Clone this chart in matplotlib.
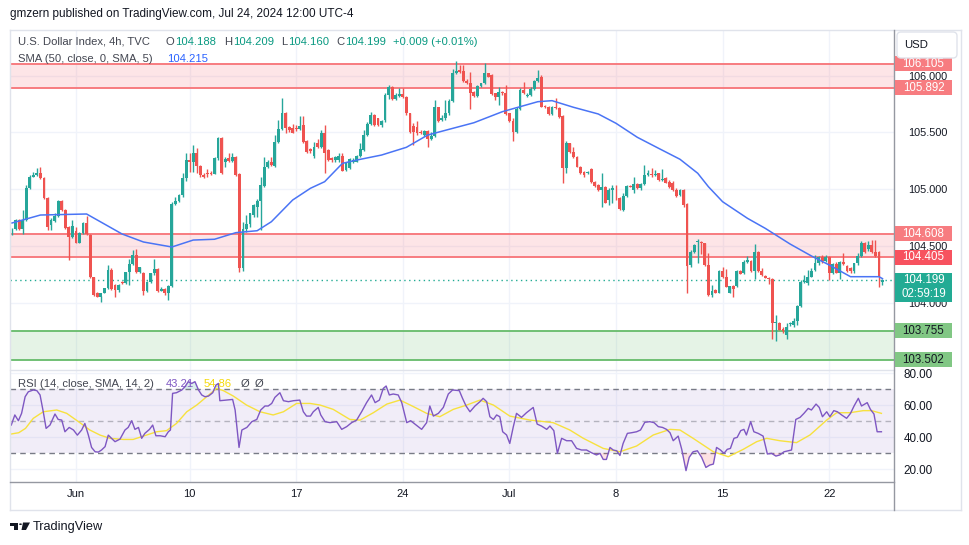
import numpy as np
import matplotlib.pyplot as plt
from matplotlib.patches import Rectangle, FancyBboxPatch, Polygon, Circle
from matplotlib.lines import Line2D
from matplotlib.transforms import IdentityTransform

plt.rcParams['font.family'] = ['Liberation Sans', 'DejaVu Sans']

# 4h candles, U.S. Dollar Index (TVC)
opens = [
    104.630, 104.648, 104.730, 104.651, 104.730, 105.008, 105.111, 105.125, 105.140, 105.096,
    104.920, 104.686, 104.724, 104.765, 104.897, 104.818, 104.671, 104.577, 104.636, 104.531,
    104.613, 104.706, 104.598, 104.226, 104.085, 104.056, 104.091, 104.129, 104.290, 104.158,
    104.114, 104.182, 104.176, 104.270, 104.340, 104.422, 104.276, 104.267, 104.109, 104.188,
    104.261, 104.296, 104.109, 104.120, 104.085, 104.150, 104.870, 104.900, 104.950, 105.096,
    105.257, 105.242, 105.316, 105.204, 105.125, 105.140, 105.140, 105.134, 105.272, 105.447,
    105.242, 105.272, 105.251, 105.280, 105.134, 104.305, 104.648, 104.695, 104.774, 104.841,
    104.900, 105.029, 105.193, 105.242, 105.204, 105.418, 105.527, 105.667, 105.550, 105.535,
    105.535, 105.527, 105.565, 105.427, 105.351, 105.293, 105.404, 105.375, 105.492, 105.345,
    105.272, 105.257, 105.257, 105.293, 105.170, 105.184, 105.243, 105.243, 105.293, 105.345,
    105.477, 105.574, 105.653, 105.624, 105.565, 105.609, 105.829, 105.902, 105.791, 105.820,
    105.834, 105.814, 105.668, 105.556, 105.550, 105.506, 105.477, 105.515, 105.439, 105.468,
    105.720, 105.609, 105.624, 105.668, 105.779, 106.019, 106.048, 106.042, 105.955, 105.931,
    105.858, 105.820, 105.908, 105.931, 106.019, 106.004, 105.843, 105.814, 105.858, 105.849,
    105.668, 105.603, 105.506, 105.703, 105.873, 105.820, 105.829, 105.878, 105.955, 105.990,
    105.732, 105.726, 105.662, 105.726, 105.711, 105.644, 105.184, 105.404, 105.331, 105.287,
    105.199, 105.155, 105.140, 105.175, 105.067, 105.038, 104.994, 105.023, 104.906, 104.994,
    104.926, 104.920, 104.818, 104.941, 105.029, 104.994, 105.046, 105.008, 105.046, 105.126,
    105.134, 105.126, 105.140, 105.082, 105.096, 105.067, 105.052, 104.994, 104.950, 104.994,
    104.871, 104.335, 104.452, 104.540, 104.540, 104.525, 104.335, 104.071, 104.115, 104.092,
    104.285, 104.232, 104.092, 104.150, 104.150, 104.285, 104.262, 104.364, 104.373, 104.285,
    104.452, 104.285, 104.238, 104.218, 104.209, 103.822, 103.828, 103.770, 103.720, 103.816,
    103.810, 103.840, 103.975, 104.188, 104.174, 104.232, 104.291, 104.349, 104.408, 104.373,
    104.402, 104.267, 104.344, 104.267, 104.364, 104.326, 104.306, 104.285, 104.349, 104.414,
    104.531, 104.472, 104.511, 104.452, 104.452, 104.188,
]
highs = [
    104.656, 104.736, 104.736, 104.818, 105.037, 105.125, 105.154, 105.184, 105.193, 105.105,
    104.929, 104.744, 104.788, 104.905, 104.905, 104.823, 104.677, 104.730, 104.671, 104.627,
    104.715, 104.765, 104.607, 104.232, 104.100, 104.062, 104.135, 104.334, 104.305, 104.167,
    104.167, 104.196, 104.276, 104.384, 104.466, 104.472, 104.320, 104.275, 104.196, 104.267,
    104.384, 104.305, 104.144, 104.129, 104.158, 104.891, 104.935, 104.958, 105.140, 105.316,
    105.321, 105.389, 105.360, 105.213, 105.146, 105.175, 105.163, 105.280, 105.462, 105.462,
    105.286, 105.321, 105.321, 105.292, 105.140, 104.715, 104.774, 104.794, 104.870, 104.911,
    105.111, 105.280, 105.257, 105.280, 105.477, 105.609, 105.799, 105.682, 105.556, 105.573,
    105.565, 105.644, 105.644, 105.433, 105.360, 105.419, 105.439, 105.521, 105.565, 105.351,
    105.287, 105.293, 105.316, 105.316, 105.243, 105.272, 105.272, 105.301, 105.404, 105.521,
    105.594, 105.682, 105.662, 105.630, 105.609, 105.843, 105.917, 105.908, 105.849, 105.887,
    105.887, 105.820, 105.673, 105.580, 105.603, 105.521, 105.521, 105.521, 105.506, 105.785,
    105.726, 105.653, 105.785, 105.791, 106.060, 106.127, 106.092, 106.092, 105.966, 106.034,
    105.867, 105.917, 105.937, 106.113, 106.025, 106.013, 105.849, 105.902, 105.867, 105.917,
    105.673, 105.624, 105.720, 105.887, 105.946, 105.843, 105.896, 105.960, 106.048, 106.004,
    105.741, 105.732, 105.732, 105.799, 105.720, 105.650, 105.427, 105.410, 105.369, 105.292,
    105.205, 105.164, 105.160, 105.184, 105.076, 105.046, 105.146, 105.029, 105.008, 105.038,
    105.038, 104.929, 104.964, 105.038, 105.038, 105.111, 105.058, 105.058, 105.213, 105.169,
    105.184, 105.169, 105.146, 105.175, 105.111, 105.082, 105.076, 105.008, 105.000, 104.999,
    104.877, 104.467, 104.520, 104.560, 104.549, 104.531, 104.437, 104.159, 104.121, 104.291,
    104.314, 104.297, 104.150, 104.159, 104.291, 104.290, 104.379, 104.414, 104.379, 104.520,
    104.458, 104.306, 104.245, 104.232, 104.218, 103.895, 103.835, 103.793, 103.822, 103.830,
    103.870, 103.983, 104.203, 104.247, 104.291, 104.306, 104.423, 104.414, 104.423, 104.423,
    104.414, 104.355, 104.364, 104.373, 104.437, 104.335, 104.320, 104.355, 104.437, 104.549,
    104.540, 104.549, 104.554, 104.554, 104.461, 104.209,
]
lows = [
    104.598, 104.642, 104.642, 104.607, 104.724, 104.999, 105.105, 105.116, 105.090, 104.911,
    104.642, 104.642, 104.715, 104.759, 104.812, 104.651, 104.378, 104.569, 104.525, 104.525,
    104.607, 104.598, 104.217, 104.062, 104.050, 104.012, 104.085, 104.120, 104.114, 104.056,
    104.100, 104.167, 104.167, 104.158, 104.334, 104.267, 104.267, 104.071, 104.100, 104.179,
    104.247, 104.100, 104.103, 104.071, 104.026, 104.138, 104.862, 104.891, 104.929, 105.075,
    105.155, 105.155, 105.146, 105.111, 105.096, 105.105, 105.125, 105.134, 105.257, 105.134,
    105.193, 105.242, 105.242, 105.119, 104.276, 104.285, 104.627, 104.671, 104.759, 104.753,
    104.642, 105.023, 105.184, 105.204, 105.193, 105.403, 105.521, 105.497, 105.506, 105.491,
    105.515, 105.521, 105.409, 105.321, 105.316, 105.272, 105.360, 105.360, 105.140, 105.252,
    105.243, 105.243, 105.243, 105.158, 105.164, 105.181, 105.234, 105.240, 105.287, 105.339,
    105.468, 105.565, 105.556, 105.556, 105.550, 105.594, 105.791, 105.785, 105.785, 105.814,
    105.799, 105.653, 105.498, 105.389, 105.477, 105.486, 105.468, 105.375, 105.433, 105.457,
    105.594, 105.603, 105.609, 105.653, 105.770, 106.013, 106.025, 105.946, 105.925, 105.703,
    105.814, 105.814, 105.902, 105.925, 105.984, 105.829, 105.785, 105.741, 105.829, 105.653,
    105.594, 105.427, 105.498, 105.697, 105.837, 105.808, 105.823, 105.873, 105.946, 105.720,
    105.714, 105.653, 105.653, 105.706, 105.624, 105.058, 105.146, 105.322, 105.272, 105.193,
    105.134, 105.111, 105.135, 105.058, 105.023, 104.988, 104.841, 104.877, 104.862, 104.882,
    104.906, 104.818, 104.812, 104.935, 105.017, 104.964, 104.999, 104.994, 105.038, 105.117,
    105.111, 105.117, 105.076, 105.076, 105.052, 105.008, 104.988, 104.929, 104.941, 104.841,
    104.092, 104.320, 104.443, 104.349, 104.432, 104.326, 104.062, 104.057, 104.086, 104.086,
    104.218, 104.139, 104.092, 104.051, 104.144, 104.256, 104.256, 104.355, 104.276, 104.209,
    104.276, 104.238, 104.220, 104.168, 103.682, 103.670, 103.760, 103.740, 103.682, 103.800,
    103.790, 103.808, 103.969, 104.174, 104.159, 104.226, 104.285, 104.335, 104.355, 104.364,
    104.203, 104.256, 104.262, 104.209, 104.335, 104.276, 104.262, 104.267, 104.335, 104.402,
    104.443, 104.461, 104.437, 104.402, 104.144, 104.160,
]
closes = [
    104.636, 104.730, 104.651, 104.730, 105.008, 105.111, 105.125, 105.140, 105.096, 104.920,
    104.671, 104.730, 104.765, 104.897, 104.818, 104.656, 104.577, 104.677, 104.531, 104.613,
    104.706, 104.607, 104.226, 104.071, 104.056, 104.091, 104.129, 104.290, 104.120, 104.114,
    104.158, 104.176, 104.270, 104.340, 104.422, 104.276, 104.314, 104.109, 104.188, 104.261,
    104.296, 104.109, 104.120, 104.085, 104.150, 104.870, 104.900, 104.950, 105.096, 105.257,
    105.242, 105.316, 105.204, 105.125, 105.111, 105.134, 105.134, 105.272, 105.447, 105.140,
    105.263, 105.251, 105.280, 105.125, 104.305, 104.648, 104.695, 104.788, 104.862, 104.900,
    105.037, 105.193, 105.242, 105.213, 105.418, 105.527, 105.667, 105.535, 105.521, 105.497,
    105.527, 105.556, 105.418, 105.330, 105.339, 105.375, 105.369, 105.492, 105.316, 105.257,
    105.257, 105.281, 105.293, 105.164, 105.228, 105.263, 105.257, 105.293, 105.351, 105.477,
    105.574, 105.653, 105.565, 105.565, 105.603, 105.829, 105.902, 105.791, 105.829, 105.834,
    105.814, 105.668, 105.506, 105.506, 105.492, 105.492, 105.512, 105.439, 105.468, 105.720,
    105.603, 105.624, 105.673, 105.779, 106.019, 106.042, 106.034, 105.955, 105.931, 105.849,
    105.820, 105.908, 105.931, 106.019, 105.990, 105.834, 105.814, 105.858, 105.843, 105.662,
    105.603, 105.506, 105.703, 105.873, 105.843, 105.829, 105.878, 105.955, 105.975, 105.726,
    105.720, 105.662, 105.726, 105.711, 105.632, 105.184, 105.404, 105.331, 105.281, 105.199,
    105.140, 105.126, 105.155, 105.067, 105.029, 104.994, 105.023, 104.882, 104.994, 105.008,
    104.920, 104.824, 104.941, 105.029, 105.023, 105.046, 105.008, 105.046, 105.126, 105.140,
    105.126, 105.131, 105.082, 105.087, 105.058, 105.023, 104.994, 104.941, 104.994, 104.862,
    104.326, 104.452, 104.511, 104.549, 104.531, 104.335, 104.071, 104.109, 104.092, 104.285,
    104.227, 104.144, 104.150, 104.121, 104.285, 104.256, 104.364, 104.379, 104.285, 104.452,
    104.285, 104.247, 104.224, 104.209, 103.822, 103.837, 103.764, 103.758, 103.793, 103.822,
    103.840, 103.975, 104.188, 104.197, 104.232, 104.285, 104.349, 104.402, 104.373, 104.402,
    104.267, 104.344, 104.267, 104.364, 104.344, 104.285, 104.285, 104.349, 104.414, 104.531,
    104.452, 104.511, 104.452, 104.414, 104.232, 104.199,
]

# SMA(50) read at a few bars
sma_x = [0, 8, 21, 31, 37, 45, 51, 57, 63, 69, 73, 79, 84, 88, 93, 97, 104, 111, 117, 123,
         130, 138, 148, 152, 158, 165, 170, 176, 182, 188, 193, 196, 200, 207, 212, 219, 225,
         230, 236, 244, 245]
sma_y = [104.704, 104.774, 104.783, 104.607, 104.537, 104.493, 104.554, 104.561, 104.619,
         104.636, 104.715, 104.906, 105.009, 105.067, 105.228, 105.257, 105.301, 105.369,
         105.477, 105.527, 105.585, 105.682, 105.770, 105.779, 105.721, 105.662, 105.580,
         105.457, 105.360, 105.264, 105.141, 105.023, 104.891, 104.745, 104.657, 104.519,
         104.414, 104.335, 104.232, 104.232, 104.215]

# RSI(14)
rsi_x = [-0.2, 0.8, 1.8, 2.7, 3.7, 4.6, 6.0, 7.0, 7.9, 8.8,
         9.6, 10.7, 12.1, 13.0, 14.0, 14.9, 16.1, 17.3, 18.4, 19.6,
         20.5, 21.5, 22.4, 23.4, 24.3, 25.2, 26.2, 27.1, 28.0, 29.0,
         30.4, 31.8, 32.7, 33.7, 34.6, 35.6, 36.5, 37.4, 38.7, 39.6,
         40.5, 41.7, 43.1, 44.0, 44.6, 45.2, 46.3, 47.8, 48.7, 49.6,
         50.6, 51.5, 52.5, 53.4, 54.3, 55.3, 56.5, 57.4, 58.1, 58.5,
         60.4, 62.1, 62.8, 63.9, 64.7, 66.1, 67.5, 68.9, 70.0, 71.2,
         72.1, 73.1, 74.0, 75.4, 76.4, 77.8, 79.2, 81.0, 82.0, 82.9,
         84.0, 84.8, 86.2, 86.9, 88.1, 89.5, 91.4, 92.8, 94.2, 95.6,
         97.0, 98.4, 99.8, 101.2, 102.2, 103.4, 104.5, 105.3, 106.2, 107.3,
         108.7, 109.7, 111.1, 112.2, 113.4, 115.3, 116.7, 117.6, 118.6, 120.0,
         121.4, 122.8, 124.0, 125.9, 126.8, 127.8, 128.9, 130.3, 131.7, 132.6,
         133.6, 134.5, 135.5, 136.4, 137.3, 138.1, 139.2, 140.1, 141.1, 142.0,
         143.4, 144.8, 146.7, 147.8, 149.0, 150.5, 151.4, 152.5, 153.5, 154.7,
         156.1, 157.5, 158.9, 160.3, 161.7, 163.1, 164.5, 165.5, 166.4, 167.3,
         168.3, 169.2, 170.2, 171.1, 172.0, 173.2, 174.4, 175.8, 176.9, 178.1,
         179.5, 180.7, 181.9, 183.1, 184.2, 185.2, 186.1, 187.5, 188.5, 189.7,
         190.6, 191.7, 192.9, 194.1, 195.3, 196.4, 197.4, 198.3, 199.4, 200.4,
         201.3, 202.2, 203.2, 204.1, 205.1, 206.0, 206.7, 207.9, 208.8, 210.0,
         211.4, 212.6, 213.8, 215.0, 216.1, 217.3, 218.5, 219.4, 220.6, 221.8,
         222.9, 224.1, 225.0, 226.3, 227.2, 228.1, 229.3, 230.2, 231.3, 232.3,
         233.5, 234.9, 236.0, 237.0, 238.2, 239.1, 240.7, 241.6, 242.6, 243.5,
         244.7]
rsi_y = [47.5, 53.8, 50.2, 54.8, 65.2, 68.3, 69.4, 69.0, 66.3, 55.8,
         45.4, 47.5, 54.4, 51.0, 50.6, 43.3, 46.0, 44.4, 41.2, 44.4,
         48.5, 41.2, 33.5, 30.8, 30.6, 31.9, 34.0, 41.2, 39.2, 37.1,
         38.7, 44.4, 46.0, 50.2, 44.8, 46.0, 39.2, 42.3, 44.8, 47.5,
         40.8, 40.8, 40.2, 43.3, 44.4, 67.3, 67.7, 69.4, 71.5, 74.6,
         73.5, 74.6, 69.4, 66.3, 65.2, 65.6, 67.7, 72.5, 73.5, 62.7,
         63.1, 63.5, 56.9, 33.5, 44.4, 46.0, 49.6, 51.0, 56.9, 59.4,
         59.4, 61.0, 64.8, 67.7, 62.7, 62.1, 62.7, 63.1, 55.8, 53.1,
         53.1, 55.8, 58.5, 53.8, 49.6, 49.0, 49.6, 44.8, 46.5, 49.0,
         50.6, 55.8, 61.5, 66.3, 61.5, 63.1, 70.4, 71.9, 66.3, 66.9,
         66.3, 61.5, 49.0, 50.2, 48.1, 44.8, 49.0, 59.4, 53.1, 54.8,
         58.5, 66.9, 69.4, 69.0, 64.2, 59.4, 55.8, 59.4, 62.1, 64.2,
         62.1, 52.7, 51.0, 53.8, 52.7, 43.3, 41.3, 36.0, 46.5, 54.8,
         52.3, 55.2, 58.5, 48.1, 46.9, 44.8, 46.9, 44.0, 29.8, 39.2,
         37.7, 37.7, 32.9, 31.9, 31.9, 30.2, 28.8, 29.8, 26.0, 26.0,
         33.5, 31.9, 31.4, 28.5, 36.0, 42.3, 42.7, 43.3, 44.4, 49.2,
         49.6, 49.0, 46.5, 46.0, 44.8, 42.7, 37.7, 40.6, 32.3, 19.0,
         27.3, 30.8, 31.4, 27.3, 21.0, 22.5, 23.1, 33.5, 31.9, 29.8,
         32.3, 32.9, 39.2, 39.8, 44.0, 44.8, 41.3, 49.6, 43.3, 42.3,
         40.6, 29.4, 29.8, 28.1, 28.8, 30.8, 31.4, 31.9, 51.0, 52.3,
         54.8, 57.9, 56.9, 60.6, 58.5, 52.7, 55.8, 52.7, 56.5, 55.8,
         53.8, 51.7, 54.8, 59.4, 64.2, 59.4, 61.5, 57.3, 54.4, 43.3,
         43.3]

# SMA(14) of the RSI
rsi_ma_x = [-0.2, 1.9, 3.8, 6.0, 8.8, 12.6, 15.4, 19.1, 21.9, 24.8,
            27.6, 31.3, 34.1, 37.0, 40.7, 43.5, 46.3, 49.2, 52.0, 54.8,
            57.6, 59.5, 62.3, 66.0, 69.8, 73.5, 76.4, 80.1, 83.9, 86.7,
            90.4, 95.1, 98.0, 101.7, 105.5, 109.2, 113.0, 116.7, 120.4, 124.2,
            128.0, 131.7, 135.5, 140.1, 145.8, 152.3, 157.0, 160.8, 166.4, 171.1,
            175.8, 180.5, 185.2, 188.0, 191.7, 197.4, 201.6, 205.8, 209.6, 212.4,
            216.1, 220.8, 224.6, 229.3, 232.1, 235.8, 239.6, 241.9, 244.7]
rsi_ma_y = [41.9, 42.7, 45.4, 51.7, 55.8, 56.9, 54.8, 49.0, 44.4, 41.2,
            39.2, 38.5, 38.5, 40.6, 43.3, 44.0, 48.5, 55.8, 60.0, 65.2,
            70.4, 69.0, 65.6, 60.0, 55.8, 53.8, 55.8, 61.0, 61.0, 60.0,
            57.3, 51.0, 50.6, 55.2, 60.6, 63.1, 59.0, 54.8, 52.7, 57.3,
            60.0, 63.1, 60.0, 53.1, 50.6, 49.0, 44.4, 39.2, 32.9, 30.8,
            34.4, 41.3, 44.8, 44.4, 39.2, 30.8, 27.7, 32.3, 37.1, 39.2,
            37.7, 36.5, 41.3, 50.6, 55.2, 55.2, 56.5, 56.5, 54.8]

week_labels = ["Jun", "10", "17", "24", "Jul", "8", "15", "22"]
week_pos = [18, 50, 80, 110, 140, 170, 200, 230]

price_ticks = [104.0, 104.5, 105.0, 105.5, 106.0]
rsi_ticks = [20, 40, 60, 80]

red_zones = [(106.105, 105.892), (104.608, 104.405)]
green_zone = (103.755, 103.502)

UP, DOWN = '#26a69a', '#ef5350'
W, H = 970, 545

fig = plt.figure(figsize=(W / 100, H / 100), dpi=100, facecolor='white')


def fx(px):
    return px / W


def fy(py):
    return 1 - py / H


def ftext(px, py, s, **kw):
    kw.setdefault('va', 'center')
    return fig.text(fx(px), fy(py), s, **kw)


def fline(x0, y0, x1, y1, **kw):
    fig.add_artist(Line2D([fx(x0), fx(x1)], [fy(y0), fy(y1)], transform=fig.transFigure, **kw))


ax = fig.add_axes([fx(10), fy(370), fx(894) - fx(10), fy(30) - fy(370)])
axr = fig.add_axes([fx(10), fy(482), fx(894) - fx(10), fy(370) - fy(482)])

# ---- price pane
x = np.arange(len(closes))
o, h, l, c = map(np.array, (opens, highs, lows, closes))
cols = np.where(c >= o, UP, DOWN)
ax.vlines(x, l, h, colors=cols, lw=1.0, zorder=4)
ax.bar(x, np.maximum(np.abs(c - o), 0.006), bottom=np.minimum(o, c), width=0.8,
       color=cols, linewidth=0, zorder=5)

for top, bot in red_zones:
    ax.axhspan(bot, top, color='#f7525f', alpha=0.15, lw=0, zorder=1)
    ax.axhline(top, color='#f77c80', lw=1.4, zorder=3)
    ax.axhline(bot, color='#f77c80', lw=1.4, zorder=3)
ax.axhspan(green_zone[1], green_zone[0], color='#4caf50', alpha=0.14, lw=0, zorder=1)
ax.axhline(green_zone[0], color='#66bb6a', lw=1.3, zorder=3)
ax.axhline(green_zone[1], color='#66bb6a', lw=1.3, zorder=3)

ax.plot(sma_x, sma_y, color='#4a74f5', lw=1.1, zorder=6)
ax.axhline(closes[-1], color='#22ab94', lw=1, ls=(0, (1, 2.5)), zorder=3)

ax.set_xlim(-0.56, 248.24)
ax.set_ylim(103.412, 106.400)
ax.yaxis.tick_right()
ax.set_yticks(price_ticks)
ax.set_yticklabels([f'{t:.3f}' for t in price_ticks])
ax.set_xticks(week_pos)
ax.tick_params(axis='y', length=0, pad=10, labelsize=7.8, labelcolor='#131722')
ax.tick_params(axis='x', length=0, labelbottom=False)
ax.grid(color='#f0f3fa', lw=1)
ax.set_axisbelow(True)
for s in ax.spines.values():
    s.set_visible(False)

# ---- RSI pane
rx, ry = np.array(rsi_x), np.array(rsi_y)
axr.axhspan(30, 70, color='#7e57c2', alpha=0.1, lw=0, zorder=1)
axr.axhline(70, color='#787b86', lw=1, ls=(0, (4, 3)), zorder=2)
axr.axhline(30, color='#787b86', lw=1, ls=(0, (4, 3)), zorder=2)
axr.axhline(50, color='#787b86', lw=1, alpha=0.5, ls=(0, (4, 3)), zorder=2)
axr.fill_between(rx, ry, 30, where=ry < 30, interpolate=True, color='#f23645', alpha=0.15,
                 lw=0, zorder=2)
axr.fill_between(rx, ry, 70, where=ry > 70, interpolate=True, color='#089981', alpha=0.15,
                 lw=0, zorder=2)
axr.plot(rsi_ma_x, rsi_ma_y, color='#f7e13e', lw=1, zorder=3)
axr.plot(rx, ry, color='#7e57c2', lw=1, zorder=4)
axr.set_xlim(-0.56, 248.24)
axr.set_ylim(11.9, 81.9)
axr.yaxis.tick_right()
axr.set_yticks(rsi_ticks)
axr.set_yticklabels([f'{t:.2f}' for t in rsi_ticks])
axr.set_xticks(week_pos)
axr.set_xticklabels(week_labels)
axr.tick_params(axis='y', length=0, pad=7, labelsize=8.4, labelcolor='#131722')
axr.tick_params(axis='x', length=0, pad=5, labelsize=8, labelcolor='#131722')
axr.grid(color='#f0f3fa', lw=1)
axr.set_axisbelow(True)
for s in axr.spines.values():
    s.set_visible(False)

# ---- frame lines
frame = '#e0e3eb'
fline(10, 30, 961, 30, color=frame, lw=1)
fline(10, 30, 10, 510, color=frame, lw=1)
fline(961, 30, 961, 510, color=frame, lw=1)
fline(10, 510, 961, 510, color=frame, lw=1)
fline(10, 370, 894, 370, color=frame, lw=1)
fline(894, 30, 894, 510, color='#9598a1', lw=1)
fline(10, 482, 894, 482, color='#9598a1', lw=1)

# ---- price scale labels
fig.canvas.draw()


def price_box(level, lines, fc, tc, hgt=15, dy=0):
    ypx = H - ax.transData.transform((0, level))[1]
    top = ypx - hgt / 2 + dy
    fig.add_artist(Rectangle((fx(895), fy(top + hgt)), fx(952) - fx(895), hgt / H,
                             transform=fig.transFigure, fc=fc, ec='none', zorder=5))
    for k, t in enumerate(lines):
        ftext(923.5, top + 7.5 + 14 * k, t, ha='center', size=8.3, color=tc, zorder=6)


price_box(106.105, ['106.105'], '#f77c80', 'white')
price_box(105.892, ['105.892'], '#f77c80', 'white')
price_box(104.608, ['104.608'], '#f77c80', 'white')
price_box(104.405, ['104.405'], '#f7525f', 'white')
price_box(closes[-1], ['104.199', '02:59:19'], '#22ab94', 'white', hgt=29, dy=7)
price_box(103.755, ['103.755'], '#81c784', '#131722')
price_box(103.502, ['103.502'], '#81c784', '#131722')

fig.add_artist(FancyBboxPatch((897, H - 58), 60, 26, boxstyle='round,pad=0,rounding_size=4',
                              transform=IdentityTransform(), fc='white', ec='#e0e3eb',
                              lw=1, zorder=7))
ftext(916, 45, 'USD', ha='center', size=8.2, color='#131722', zorder=8)

# ---- legends and header
ftext(10, 14, 'gmzern published on TradingView.com, Jul 24, 2024 12:00 UTC-4', size=8.5,
      color='#131722')
grey, teal = '#434651', '#089981'
fs = 8.1
ftext(18, 42, 'U.S. Dollar Index, 4h, TVC', size=fs, color=grey)
for px, t, col in [(166, 'O', grey), (175, '104.188', teal), (224, 'H', grey),
                   (233, '104.209', teal), (281, 'L', grey), (288, '104.160', teal),
                   (336, 'C', grey), (345, '104.199', teal), (393, '+0.009 (+0.01%)', teal)]:
    ftext(px, 42, t, size=fs, color=col)
ftext(18, 59, 'SMA (50, close, 0, SMA, 5)', size=fs, color=grey)
ftext(167, 59, '104.215', size=fs, color='#2962ff')
ftext(18, 384, 'RSI (14, close, SMA, 14, 2)', size=fs, color=grey, zorder=9)
ftext(166, 384, '43.21', size=fs, color='#7e57c2', zorder=9)
ftext(204, 384, '54.86', size=fs, color='#f5d90a', zorder=9)
ftext(241, 384, 'Ø', size=fs, color=grey, zorder=9)
ftext(255, 384, 'Ø', size=fs, color=grey, zorder=9)

# ---- TradingView mark
logo = '#131722'
fig.add_artist(Rectangle((fx(10), fy(525.5)), fx(18) - fx(10), 3 / H, transform=fig.transFigure,
                         fc=logo, ec='none'))
fig.add_artist(Rectangle((fx(14), fy(530)), fx(18) - fx(14), 7 / H, transform=fig.transFigure,
                         fc=logo, ec='none'))
fig.add_artist(Circle((fx(20.5), fy(524.2)), 1.4 / W, transform=fig.transFigure, fc=logo,
                      ec='none'))
fig.add_artist(Polygon([(fx(23), fy(522.5)), (fx(30), fy(522.5)), (fx(26), fy(530)),
                        (fx(21.5), fy(530))], closed=True, transform=fig.transFigure,
                       fc=logo, ec='none'))
ftext(33, 527, 'TradingView', size=9.2, color=logo)

fig.savefig('out.png', dpi=100, facecolor='white')
